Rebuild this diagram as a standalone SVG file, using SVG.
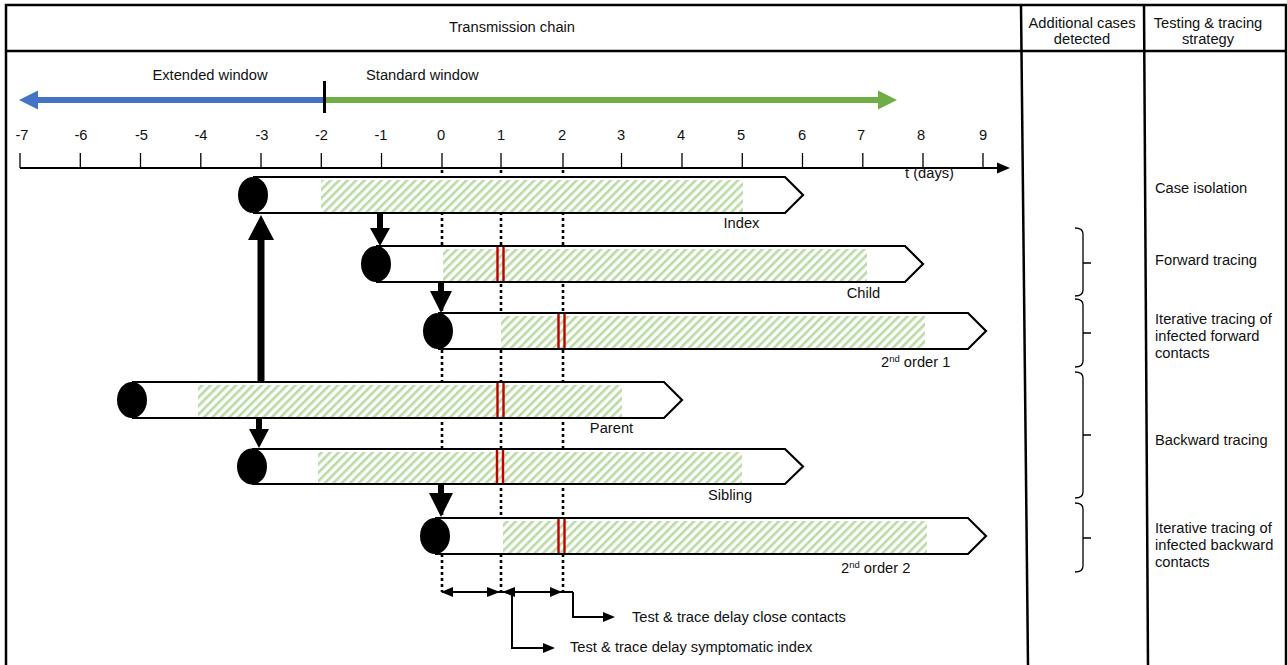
<svg xmlns="http://www.w3.org/2000/svg" width="1287" height="665" viewBox="0 0 1287 665">
<style>
text{font-family:"Liberation Sans",Arial,Helvetica,sans-serif;font-size:14.7px;fill:#111}
.mid{text-anchor:middle}
.frame{fill:none;stroke:#000;stroke-width:2.5}
.bar{fill:#fff;stroke:#000;stroke-width:2.2;stroke-linejoin:miter}
.hatch{fill:url(#hatch)}
.red{stroke:#c00000;stroke-width:2.4}
.dot{stroke:#000;stroke-width:2.6;stroke-dasharray:3 3;fill:none}
.brace{fill:none;stroke:#000;stroke-width:1.3}
.thin{fill:none;stroke:#000;stroke-width:2}
.tick{stroke:#000;stroke-width:1.3}
</style>
<defs>
<pattern id="hatch" patternUnits="userSpaceOnUse" width="6" height="6" patternTransform="rotate(45)">
<rect x="0" y="0" width="2.6" height="6" fill="#b9dba4"/>
</pattern>
</defs>
<rect width="1287" height="665" fill="#fff"/>

<g id="frame">
<rect class="frame" x="6" y="5" width="1280" height="680"/>
<line class="frame" x1="6" y1="51" x2="1286" y2="51"/>
<line class="frame" x1="1021" y1="5" x2="1028" y2="665"/>
<line class="frame" x1="1144" y1="5" x2="1148" y2="665"/>
<text class="mid" x="512" y="32">Transmission chain</text>
<text class="mid" x="1082" y="28">Additional cases</text>
<text class="mid" x="1082" y="44">detected</text>
<text class="mid" x="1208" y="28">Testing &amp; tracing</text>
<text class="mid" x="1208" y="44">strategy</text>
</g>

<g id="windows">
<line x1="325" y1="100" x2="36" y2="100" stroke="#4472c4" stroke-width="6"/>
<polygon points="19,100 38,90.5 38,109.5" fill="#4472c4"/>
<line x1="325" y1="100" x2="880" y2="100" stroke="#70ad47" stroke-width="6"/>
<polygon points="897,100 878,90.5 878,109.5" fill="#70ad47"/>
<line x1="324.5" y1="81" x2="324.5" y2="113" stroke="#000" stroke-width="3"/>
<text class="mid" x="210" y="80">Extended window</text>
<text x="366" y="80">Standard window</text>
</g>

<g id="axis">
<line x1="20" y1="168" x2="1000" y2="168" stroke="#000" stroke-width="2"/>
<polygon points="1010,168 997,162.5 997,173.5" fill="#000"/>
<g class="tick">
<line x1="20" y1="153" x2="20" y2="168"/>
<line x1="80.3" y1="153" x2="80.3" y2="168"/>
<line x1="140.5" y1="153" x2="140.5" y2="168"/>
<line x1="200.8" y1="153" x2="200.8" y2="168"/>
<line x1="261" y1="153" x2="261" y2="168"/>
<line x1="321.3" y1="153" x2="321.3" y2="168"/>
<line x1="381.5" y1="153" x2="381.5" y2="168"/>
<line x1="442" y1="153" x2="442" y2="168"/>
<line x1="501" y1="153" x2="501" y2="168"/>
<line x1="563" y1="153" x2="563" y2="168"/>
<line x1="621.5" y1="153" x2="621.5" y2="168"/>
<line x1="682" y1="153" x2="682" y2="168"/>
<line x1="742.3" y1="153" x2="742.3" y2="168"/>
<line x1="802.5" y1="153" x2="802.5" y2="168"/>
<line x1="862.8" y1="153" x2="862.8" y2="168"/>
<line x1="923" y1="153" x2="923" y2="168"/>
<line x1="983" y1="153" x2="983" y2="168"/>
</g>
<text class="mid" x="22" y="140">-7</text>
<text class="mid" x="81" y="140">-6</text>
<text class="mid" x="141.5" y="140">-5</text>
<text class="mid" x="201" y="140">-4</text>
<text class="mid" x="262" y="140">-3</text>
<text class="mid" x="321.5" y="140">-2</text>
<text class="mid" x="381" y="140">-1</text>
<text class="mid" x="441" y="140">0</text>
<text class="mid" x="501" y="140">1</text>
<text class="mid" x="562" y="140">2</text>
<text class="mid" x="621" y="140">3</text>
<text class="mid" x="681" y="140">4</text>
<text class="mid" x="741" y="140">5</text>
<text class="mid" x="802" y="140">6</text>
<text class="mid" x="861" y="140">7</text>
<text class="mid" x="921" y="140">8</text>
<text class="mid" x="983" y="140">9</text>
<text x="905" y="178">t (days)</text>
</g>

<g id="dotted-guides">
<line class="dot" x1="442" y1="170" x2="442" y2="592"/>
<line class="dot" x1="501" y1="170" x2="501" y2="592"/>
<line class="dot" x1="563" y1="170" x2="563" y2="592"/>
</g>

<g id="index">
<path class="bar" d="M253,177 H785 L803,195 L785,213 H253"/>
<rect class="hatch" x="321" y="180" width="422" height="32"/>
<ellipse cx="253" cy="195" rx="15" ry="18" fill="#000"/>
<text class="mid" x="741.5" y="228">Index</text>
</g>

<g id="child">
<path class="bar" d="M376,246 H905 L923,264 L905,282 H376"/>
<rect class="hatch" x="443" y="249" width="424" height="32"/>
<line class="red" x1="497.5" y1="247" x2="497.5" y2="281"/>
<line class="red" x1="503.5" y1="247" x2="503.5" y2="281"/>
<ellipse cx="376" cy="264" rx="15" ry="18" fill="#000"/>
<text class="mid" x="863.5" y="298">Child</text>
</g>

<g id="second-order-1">
<path class="bar" d="M438,313 H968 L986,331 L968,349 H438"/>
<rect class="hatch" x="501" y="316" width="424" height="32"/>
<line class="red" x1="558.5" y1="314" x2="558.5" y2="348"/>
<line class="red" x1="564.5" y1="314" x2="564.5" y2="348"/>
<ellipse cx="438" cy="331" rx="15" ry="18" fill="#000"/>
<text x="881" y="367">2<tspan font-size="9.5" dy="-5">nd</tspan><tspan dy="5"> order 1</tspan></text>
</g>

<g id="parent">
<path class="bar" d="M132,382 H664 L682,400 L664,418 H132"/>
<rect class="hatch" x="198" y="385" width="424" height="32"/>
<line class="red" x1="497.5" y1="383" x2="497.5" y2="417"/>
<line class="red" x1="503.5" y1="383" x2="503.5" y2="417"/>
<ellipse cx="132" cy="400" rx="15" ry="18" fill="#000"/>
<text class="mid" x="611.5" y="433">Parent</text>
</g>

<g id="sibling">
<path class="bar" d="M252,449 H785 L803,466.5 L785,484 H252"/>
<rect class="hatch" x="318" y="452" width="424" height="31"/>
<line class="red" x1="497" y1="450" x2="497" y2="483"/>
<line class="red" x1="503" y1="450" x2="503" y2="483"/>
<ellipse cx="252" cy="466.5" rx="15" ry="18" fill="#000"/>
<text class="mid" x="730" y="500">Sibling</text>
</g>

<g id="second-order-2">
<path class="bar" d="M435,518 H968 L986,536 L968,554 H435"/>
<rect class="hatch" x="503" y="521" width="424" height="32"/>
<line class="red" x1="558.5" y1="519" x2="558.5" y2="553"/>
<line class="red" x1="564.5" y1="519" x2="564.5" y2="553"/>
<ellipse cx="435" cy="536" rx="15" ry="18" fill="#000"/>
<text x="841" y="573">2<tspan font-size="9.5" dy="-5">nd</tspan><tspan dy="5"> order 2</tspan></text>
</g>

<g id="connectors" fill="#000">
<polygon points="377,214 383,214 383,228 390,228 380,246 370,228 377,228"/>
<polygon points="438,283 444,283 444,291 452,291 441,313 430,291 438,291"/>
<polygon points="257.5,382 264.5,382 264.5,240 274,240 261,215 248,240 257.5,240"/>
<polygon points="256,419 262,419 262,429 269,429 259,448 249,429 256,429"/>
<polygon points="438,485 444,485 444,493 453,493 441,517 429,493 438,493"/>
</g>

<g id="delays">
<line class="thin" x1="442" y1="592" x2="573" y2="592"/>
<polygon points="441,592 453,587 453,597" fill="#000"/>
<polygon points="500,592 487,587 487,597" fill="#000"/>
<polygon points="502,592 515,587 515,597" fill="#000"/>
<polygon points="562,592 550,587 550,597" fill="#000"/>
<path class="thin" d="M573,592 V617 H604"/>
<polygon points="615,617 603,612 603,622" fill="#000"/>
<path class="thin" d="M512,592 V648 H544"/>
<polygon points="555,648 543,643 543,653" fill="#000"/>
<text x="632" y="622">Test &amp; trace delay close contacts</text>
<text x="570" y="652">Test &amp; trace delay symptomatic index</text>
</g>

<g id="braces">
<path class="brace" d="M1075,228 Q1083,228 1083,234 V290 Q1083,296 1075,296 M1083,263 H1091"/>
<path class="brace" d="M1075,299 Q1083,299 1083,305 V361 Q1083,367 1075,367 M1083,333 H1091"/>
<path class="brace" d="M1075,372 Q1083,372 1083,378 V492 Q1083,498 1075,498 M1083,435 H1091"/>
<path class="brace" d="M1075,503 Q1083,503 1083,509 V566 Q1083,572 1075,572 M1083,538 H1091"/>
</g>

<g id="strategies">
<text x="1155" y="193">Case isolation</text>
<text x="1155" y="265">Forward tracing</text>
<text x="1155" y="324">Iterative tracing of</text>
<text x="1155" y="341">infected forward</text>
<text x="1155" y="358">contacts</text>
<text x="1155" y="445">Backward tracing</text>
<text x="1155" y="533">Iterative tracing of</text>
<text x="1155" y="550">infected backward</text>
<text x="1155" y="567">contacts</text>
</g>
</svg>
